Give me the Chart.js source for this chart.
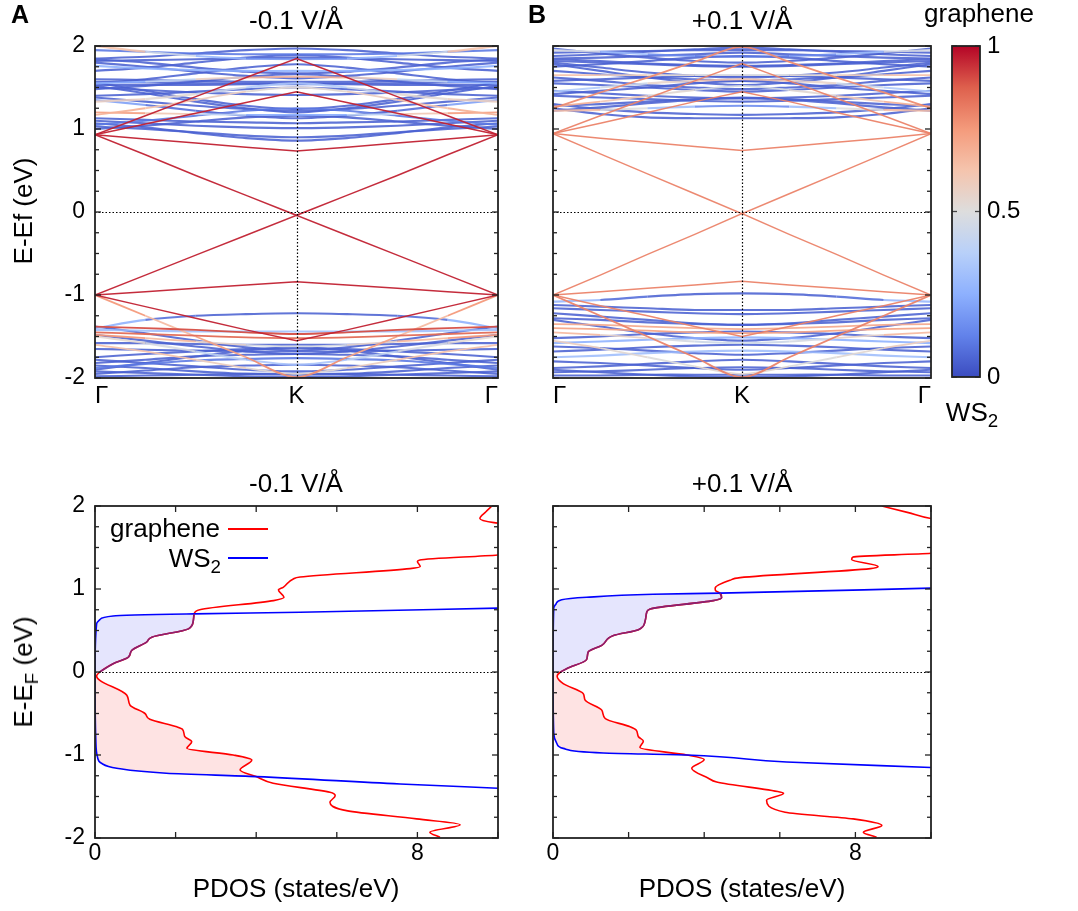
<!DOCTYPE html>
<html>
<head>
<meta charset="utf-8">
<title>graphene/WS2 bands and PDOS</title>
<script src="https://cdn.jsdelivr.net/npm/chart.js@4.4.1/dist/chart.umd.min.js"></script>
<style>
  body { margin: 0; background: #fff; }
  #fig { position: relative; width: 1078px; height: 911px; overflow: hidden;
         font-family: "Liberation Sans", Arial, sans-serif; color: #000; font-size: 26px; }
  #fig canvas { position: absolute; }
  .t { position: absolute; white-space: nowrap; line-height: 1; transform: translate(-50%, -50%); }
  .r { position: absolute; white-space: nowrap; line-height: 1; transform: translate(-100%, -50%); }
  .rot { transform: translate(-50%, -50%) rotate(-90deg); }
  .b { font-weight: bold; font-size: 25px; }
  .sb { font-size: 0.72em; position: relative; top: 0.32em; }
  .leg { position: absolute; height: 0; border-top: 2px solid; }
</style>
</head>
<body>
<div id="fig">
  <canvas id="bandA" width="520" height="410" style="left:0;top:20px"></canvas>
  <canvas id="bandB" width="420" height="410" style="left:540px;top:20px"></canvas>
  <canvas id="cbar" width="110" height="380" style="left:940px;top:20px"></canvas>
  <canvas id="pdosA" width="520" height="431" style="left:0;top:480px"></canvas>
  <canvas id="pdosB" width="420" height="431" style="left:540px;top:480px"></canvas>

  <div class="t b" style="left:20px;top:14px">A</div>
  <div class="t b" style="left:537px;top:14px">B</div>
  <div class="t" style="left:296px;top:20px">-0.1 V/Å</div>
  <div class="t" style="left:742px;top:20px">+0.1 V/Å</div>
  <div class="t" style="left:979px;top:13px">graphene</div>
  <div class="t" style="left:972px;top:412px">WS<span class="sb">2</span></div>
  <div class="t rot" style="left:23px;top:211px">E-Ef (eV)</div>

  <div class="t" style="left:296px;top:483px">-0.1 V/Å</div>
  <div class="t" style="left:742px;top:483px">+0.1 V/Å</div>
  <div class="t rot" style="left:23px;top:672px">E-E<span class="sb">F</span> (eV)</div>
  <div class="t" style="left:296px;top:888px">PDOS (states/eV)</div>
  <div class="t" style="left:742px;top:888px">PDOS (states/eV)</div>
  <div class="r" style="left:220px;top:528px">graphene</div>
  <div class="r" style="left:221px;top:558px">WS<span class="sb">2</span></div>
  <div class="leg" style="left:228px;top:528px;width:40px;border-color:#f00"></div>
  <div class="leg" style="left:228px;top:557px;width:40px;border-color:#00f"></div>
</div>

<script>
// k path Gamma -> K, the K -> Gamma half is the same bands mirrored
const kPath = [0, 0.25, 0.5, 0.75, 1];
const kLabels = ['Γ', 'K', 'Γ'];

// -0.1 V/A : bands (eV) read at kPath, and graphene weight of each band
const bandsA = [
  [1.07, 1.02, 0.95, 0.89, 0.86],
  [1.03, 1.00, 0.96, 0.92, 0.90],
  [1.10, 1.07, 1.04, 1.02, 1.01],
  [1.13, 1.11, 1.09, 1.08, 1.07],
  [1.00, 1.04, 1.09, 1.14, 1.16],
  [1.05, 1.10, 1.16, 1.22, 1.25],
  [1.35, 1.29, 1.22, 1.16, 1.13],
  [1.52, 1.43, 1.33, 1.25, 1.20],
  [1.56, 1.46, 1.36, 1.28, 1.24],
  [1.50, 1.47, 1.44, 1.42, 1.41],
  [1.53, 1.53, 1.53, 1.54, 1.54],
  [1.57, 1.56, 1.55, 1.55, 1.55],
  [1.60, 1.59, 1.58, 1.57, 1.57],
  [1.48, 1.52, 1.57, 1.63, 1.66],
  [1.55, 1.60, 1.67, 1.74, 1.78],
  [1.80, 1.75, 1.69, 1.64, 1.61],
  [1.84, 1.80, 1.74, 1.69, 1.67],
  [1.82, 1.83, 1.84, 1.85, 1.86],
  [1.85, 1.87, 1.91, 1.95, 1.97],
  [1.95, 1.93, 1.91, 1.90, 1.90],
  [1.76, 1.73, 1.71, 1.70, 1.70],
  [1.70, 1.74, 1.80, 1.86, 1.89],
  [1.40, 1.42, 1.45, 1.48, 1.50],
  [1.38, 1.33, 1.28, 1.24, 1.22],
  [2.00, 1.93, 1.88, 1.85, 1.84],
  [1.20, 1.19, 1.18, 1.17, 1.17],
  [1.17, 1.25, 1.35, 1.45, 1.50],
  [1.33, 1.36, 1.42, 1.50, 1.55],
  [1.55, 1.57, 1.60, 1.62, 1.63],
  [-1.40, -1.30, -1.25, -1.23, -1.22],
  [-1.38, -1.40, -1.42, -1.45, -1.47],
  [-1.45, -1.47, -1.49, -1.51, -1.52],
  [-1.48, -1.52, -1.56, -1.60, -1.62],
  [-1.42, -1.43, -1.44, -1.44, -1.44],
  [-1.58, -1.58, -1.59, -1.60, -1.60],
  [-1.38, -1.46, -1.55, -1.63, -1.67],
  [-1.48, -1.55, -1.62, -1.68, -1.71],
  [-1.75, -1.71, -1.68, -1.65, -1.64],
  [-1.82, -1.78, -1.74, -1.72, -1.71],
  [-1.88, -1.83, -1.79, -1.77, -1.76],
  [-1.95, -1.91, -1.87, -1.85, -1.84],
  [-1.78, -1.82, -1.86, -1.90, -1.92],
  [-1.85, -1.88, -1.92, -1.95, -1.96],
  [-1.98, -1.97, -1.96, -1.95, -1.95],
  [-1.92, -1.94, -1.96, -1.98, -1.99],
  [-1.60, -1.68, -1.78, -1.88, -1.95],
  [-1.50, -1.58, -1.68, -1.78, -1.84],
  [-1.90, -1.82, -1.74, -1.67, -1.63],
  [-1.65, -1.66, -1.67, -1.68, -1.68],
  [-1.00, -1.25, -1.50, -1.75, -1.99]
];
const wA = [
  0.05, 0.05, 0.05, 0.05, 0.05, 0.1, [0.3, 0.1, 0.05, 0.05, 0.05],
  0.05, 0.05, 0.05, 0.05, 0.05, 0.05, 0.05, 0.05, 0.05, 0.05, 0.05, 0.05,
  0.1, 0.25, 0.05, 0.05, 0.05,
  [0.72, 0.55, 0.35, 0.2, 0.15], [0.75, 0.7, 0.5, 0.3, 0.2], [0.7, 0.65, 0.6, 0.55, 0.5],
  [0.6, 0.55, 0.5, 0.4, 0.3], [0.2, 0.3, 0.5, 0.65, 0.7],
  [0.4, 0.1, 0.05, 0.05, 0.05], 0.9, 0.85, [0.8, 0.7, 0.6, 0.5, 0.45], 0.3,
  0.05, 0.05, 0.05, 0.05, 0.05, 0.1, 0.05, 0.05, 0.05, 0.05, 0.05,
  [0.6, 0.65, 0.6, 0.55, 0.5], [0.55, 0.5, 0.45, 0.35, 0.3], 0.05, 0.05,
  [0.9, 0.6, 0.7, 0.75, 0.8]
];
// folded graphene cones
const diracA = [
  [0.93, 0.69, 0.44, 0.20, -0.04],
  [-1.00, -0.76, -0.52, -0.28, -0.04],
  [0.93, 0.88, 0.83, 0.78, 0.735],
  [0.93, 1.06, 1.19, 1.32, 1.45],
  [0.93, 1.16, 1.39, 1.62, 1.85],
  [-1.00, -0.96, -0.92, -0.88, -0.84],
  [-1.00, -1.14, -1.28, -1.42, -1.55]
];
const diracWA = 0.96;

// +0.1 V/A
const bandsB = [
  [1.25, 1.18, 1.14, 1.13, 1.13],
  [1.30, 1.24, 1.20, 1.18, 1.17],
  [1.22, 1.26, 1.31, 1.35, 1.37],
  [1.28, 1.30, 1.33, 1.36, 1.38],
  [1.40, 1.38, 1.36, 1.34, 1.33],
  [1.46, 1.43, 1.40, 1.38, 1.37],
  [1.55, 1.53, 1.50, 1.47, 1.45],
  [1.62, 1.58, 1.53, 1.50, 1.48],
  [1.78, 1.70, 1.62, 1.56, 1.53],
  [1.80, 1.74, 1.68, 1.64, 1.62],
  [1.82, 1.80, 1.78, 1.76, 1.75],
  [1.85, 1.86, 1.88, 1.90, 1.92],
  [1.88, 1.90, 1.93, 1.96, 1.98],
  [1.92, 1.93, 1.94, 1.95, 1.95],
  [1.75, 1.78, 1.82, 1.86, 1.88],
  [1.70, 1.66, 1.62, 1.60, 1.58],
  [1.97, 1.91, 1.86, 1.82, 1.80],
  [1.58, 1.60, 1.62, 1.64, 1.64],
  [1.42, 1.46, 1.50, 1.55, 1.58],
  [1.84, 1.82, 1.79, 1.77, 1.76],
  [1.65, 1.65, 1.65, 1.65, 1.65],
  [1.95, 1.93, 1.90, 1.88, 1.87],
  [1.22, 1.23, 1.25, 1.27, 1.28],
  [1.27, 1.33, 1.40, 1.47, 1.52],
  [1.45, 1.50, 1.55, 1.58, 1.60],
  [1.25, 1.44, 1.62, 1.81, 1.99],
  [-1.08, -1.06, -1.02, -0.99, -0.98],
  [-1.12, -1.14, -1.16, -1.18, -1.18],
  [-1.16, -1.18, -1.20, -1.22, -1.23],
  [-1.22, -1.26, -1.30, -1.34, -1.36],
  [-1.28, -1.30, -1.33, -1.35, -1.36],
  [-1.35, -1.36, -1.38, -1.40, -1.41],
  [-1.40, -1.41, -1.43, -1.45, -1.46],
  [-1.45, -1.48, -1.52, -1.56, -1.58],
  [-1.30, -1.38, -1.46, -1.52, -1.55],
  [-1.52, -1.50, -1.47, -1.45, -1.44],
  [-1.58, -1.56, -1.54, -1.52, -1.51],
  [-1.62, -1.64, -1.67, -1.70, -1.72],
  [-1.68, -1.66, -1.63, -1.61, -1.60],
  [-1.75, -1.73, -1.70, -1.68, -1.67],
  [-1.80, -1.82, -1.85, -1.88, -1.90],
  [-1.88, -1.86, -1.83, -1.80, -1.78],
  [-1.93, -1.92, -1.90, -1.88, -1.87],
  [-1.97, -1.97, -1.96, -1.96, -1.96],
  [-1.90, -1.93, -1.96, -1.98, -1.99],
  [-1.55, -1.64, -1.75, -1.86, -1.95],
  [-1.00, -1.25, -1.50, -1.75, -1.99]
];
const wB = [
  0.05, 0.05, 0.05, 0.05, 0.05, 0.05, 0.05, 0.05, 0.05, 0.05,
  0.05, 0.05, 0.05, 0.05, 0.05, 0.05, 0.05, 0.05, 0.05, 0.05,
  [0.65, 0.6, 0.55, 0.5, 0.5], [0.55, 0.4, 0.2, 0.1, 0.1], [0.7, 0.6, 0.4, 0.2, 0.1],
  [0.7, 0.65, 0.55, 0.5, 0.45], [0.3, 0.4, 0.5, 0.6, 0.65], 0.78,
  [0.45, 0.1, 0.05, 0.05, 0.05], 0.05, 0.05, 0.05, 0.05, 0.7, 0.72,
  [0.7, 0.6, 0.5, 0.45, 0.45], 0.05, 0.05, 0.25, 0.05, 0.05, 0.3,
  0.05, 0.05, 0.05, 0.05, 0.05, [0.6, 0.55, 0.5, 0.5, 0.55], 0.8
];
const diracB = [
  [0.945, 0.70, 0.46, 0.22, -0.02],
  [-1.00, -0.76, -0.51, -0.27, -0.02],
  [0.945, 0.89, 0.84, 0.79, 0.74],
  [0.945, 1.07, 1.20, 1.33, 1.45],
  [0.945, 1.16, 1.37, 1.58, 1.79],
  [-1.00, -0.96, -0.92, -0.88, -0.835],
  [-1.00, -1.13, -1.25, -1.38, -1.50]
];
const diracWB = 0.8;

// PDOS, -0.1 V/A (energy eV, states/eV)
const eGrA = [-1.99, -1.93, -1.84, -1.77, -1.67, -1.57, -1.49, -1.45, -1.34, -1.26, -1.18, -1.06, -1.00, -0.92,
  -0.84, -0.78, -0.69, -0.66, -0.57, -0.50, -0.40, -0.28, -0.10, -0.05, 0.00, 0.10, 0.18, 0.26, 0.36, 0.42,
  0.52, 0.62, 0.70, 0.75, 0.86, 0.90, 0.99, 1.02, 1.12, 1.145, 1.245, 1.27, 1.33, 1.35, 1.41, 1.45, 1.60,
  1.75, 1.80, 1.85, 1.93, 2.00];
const pGrA = [8.56, 8.31, 9.06, 7.98, 6.24, 5.83, 5.96, 5.83, 4.42, 4.00, 3.60, 3.89, 3.43, 2.28,
  2.40, 2.23, 2.17, 2.03, 1.36, 1.24, 0.87, 0.79, 0.12, 0.04, 0.12, 0.45, 0.83, 0.91, 1.28, 1.41,
  2.32, 2.44, 2.46, 2.60, 4.43, 4.69, 4.55, 4.67, 4.92, 5.09, 7.82, 8.07, 8.00, 8.06, 10.0, 10.8, 12.0,
  11.0, 9.90, 9.55, 9.70, 9.85];
const eWsA = [-1.40, -1.35, -1.26, -1.22, -1.16, -1.10, -1.02, -0.82, 0.00, 0.58, 0.63, 0.675, 0.70, 0.72, 0.77];
const pWsA = [10.0, 7.57, 4.00, 1.77, 0.54, 0.16, 0.06, 0.02, 0.00, 0.04, 0.12, 0.45, 2.46, 5.09, 10.0];
const fillUpA = [0, 0.70];
const fillDownA = [-1.26, 0];

// PDOS, +0.1 V/A
const eGrB = [-1.99, -1.93, -1.85, -1.77, -1.69, -1.545, -1.46, -1.445, -1.325, -1.28, -1.16, -1.055, -1.00,
  -0.91, -0.83, -0.78, -0.70, -0.66, -0.56, -0.46, -0.34, -0.26, -0.14, -0.05, 0.00, 0.04, 0.15, 0.24, 0.32,
  0.44, 0.51, 0.62, 0.72, 0.76, 0.86, 0.895, 0.95, 0.98, 1.01, 1.105, 1.137, 1.245, 1.27, 1.355, 1.385,
  1.43, 1.50, 1.65, 1.80, 1.85, 1.92, 2.00];
const pGrB = [8.56, 8.21, 8.70, 7.94, 6.14, 5.65, 6.10, 6.00, 4.33, 4.11, 3.67, 4.00, 3.54,
  2.30, 2.39, 2.26, 2.20, 2.04, 1.38, 1.29, 0.85, 0.80, 0.27, 0.11, 0.20, 0.36, 0.89, 0.93, 1.29,
  1.60, 2.26, 2.44, 2.48, 2.57, 4.24, 4.46, 4.42, 4.30, 4.29, 4.68, 4.95, 8.40, 8.60, 7.90, 7.94,
  10.0, 11.0, 12.0, 11.0, 10.0, 9.40, 8.70];
const eWsB = [-1.15, -1.085, -1.00, -0.975, -0.92, -0.86, -0.74, 0.00, 0.77, 0.82, 0.87, 0.90, 0.936, 0.95, 1.01];
const pWsB = [10.0, 6.18, 3.54, 1.33, 0.27, 0.10, 0.02, 0.00, 0.02, 0.08, 0.23, 0.89, 2.65, 4.42, 10.0];
const fillUpB = [0, 0.95];
const fillDownB = [-1.00, 0];

const pdosLabels = [0, 8];
const cbarRange = [0, 1];

// coolwarm-ish palette (weight -> rgb)
const cmapStops = [
  [0.0, [59, 76, 192]], [0.125, [98, 130, 234]], [0.25, [141, 176, 254]], [0.375, [184, 208, 249]],
  [0.5, [221, 221, 221]], [0.625, [245, 196, 173]], [0.75, [244, 154, 123]], [0.875, [222, 96, 77]],
  [1.0, [180, 4, 38]]
];

function cmap(w, alpha) {
  w = Math.min(1, Math.max(0, w));
  let i = 0;
  while (i < cmapStops.length - 2 && w > cmapStops[i + 1][0]) i++;
  const [w0, c0] = cmapStops[i], [w1, c1] = cmapStops[i + 1];
  const t = (w - w0) / (w1 - w0);
  const c = c0.map((v, j) => Math.round(v + (c1[j] - v) * t));
  return 'rgba(' + c[0] + ',' + c[1] + ',' + c[2] + ',' + alpha + ')';
}

Chart.defaults.font.family = "'Liberation Sans', Arial, sans-serif";
Chart.defaults.color = '#000';

// box + inward ticks on all sides + dotted guides (gnuplot look)
const frame = {
  id: 'frame',
  afterDatasetsDraw(chart, args, o) {
    const {ctx, chartArea: a, scales} = chart;
    const x = scales.x, y = scales.y;
    const seg = (x0, y0, x1, y1) => { ctx.beginPath(); ctx.moveTo(x0, y0); ctx.lineTo(x1, y1); ctx.stroke(); };
    ctx.save();
    ctx.strokeStyle = '#000';
    ctx.lineWidth = 1.2;
    ctx.setLineDash([1.5, 2]);
    (o.hLines || []).forEach(v => { const p = Math.round(y.getPixelForValue(v)) + 0.5; seg(a.left, p, a.right, p); });
    (o.vLines || []).forEach(v => { const p = Math.round(x.getPixelForValue(v)) + 0.5; seg(p, a.top, p, a.bottom); });
    ctx.setLineDash([]);

    ctx.strokeStyle = o.cbar ? '#444' : '#222';
    ctx.lineWidth = 1.3;
    y.ticks.forEach(t => {
      const p = y.getPixelForValue(t.value);
      const len = o.cbar ? 5 : (Number.isInteger(t.value) ? 6 : 4);
      seg(a.left, p, a.left + len, p);
      seg(a.right, p, a.right - len, p);
    });
    if (o.xTicks) {
      x.ticks.forEach(t => {
        const p = x.getPixelForValue(t.value);
        seg(p, a.bottom, p, a.bottom - 6);
        seg(p, a.top, p, a.top + 6);
      });
    }
    ctx.strokeStyle = '#222';
    ctx.lineWidth = 1.8;
    ctx.strokeRect(a.left, a.top, a.width, a.height);
    ctx.restore();
  }
};
Chart.register(frame);

const noPad = s => { s.paddingTop = 0; s.paddingBottom = 0; s.paddingLeft = 0; s.paddingRight = 0; };
const mirror = v => v.concat(v.slice(0, 4).reverse());
const kFull = kPath.concat(kPath.slice(0, 4).reverse().map(k => 2 - k));

function bandSet(e, wt, straight) {
  const w = mirror(Array.isArray(wt) ? wt : kPath.map(() => wt));
  const ys = mirror(e);
  const avg = w.reduce((s, v) => s + v, 0) / w.length;
  const alpha = avg > 0.5 ? 0.95 : 0.88;
  return {
    data: kFull.map((k, j) => ({x: k, y: ys[j]})),
    borderColor: cmap(avg, alpha),
    borderWidth: straight ? 1.5 : (avg > 0.5 ? 1.8 : 2.1),
    tension: straight ? 0 : 0.3,
    pointRadius: 0,
    fill: false,
    order: straight ? -1 : 1 - avg,
    segment: { borderColor: c => cmap((w[c.p0DataIndex] + w[c.p1DataIndex]) / 2, alpha) }
  };
}

function bandChart(id, bands, wts, dirac, diracW, showY) {
  const sets = bands.map((e, i) => bandSet(e, wts[i] ?? 0.05, false))
    .concat(dirac.map(e => bandSet(e, diracW, true)));
  return new Chart(document.getElementById(id), {
    type: 'line',
    data: { datasets: sets },
    options: {
      responsive: false, animation: false, events: [], devicePixelRatio: 1,
      layout: { padding: { left: 0, top: 26, right: showY ? 22 : 29, bottom: 0 } },
      plugins: { legend: {display: false}, tooltip: {enabled: false}, frame: { hLines: [0], vLines: [1] } },
      scales: {
        x: {
          type: 'linear', min: 0, max: 2,
          grid: {display: false, drawTicks: false}, border: {display: false},
          ticks: { stepSize: 1, autoSkip: false, maxRotation: 0, align: 'inner', padding: 4, font: {size: 24},
                   callback: v => kLabels[v] ?? '' },
          afterFit: s => { s.height = 52; noPad(s); }
        },
        y: {
          type: 'linear', min: -2, max: 2,
          grid: {display: false, drawTicks: false}, border: {display: false},
          ticks: { stepSize: 0.25, autoSkip: false, display: showY, padding: 10, font: {size: 23},
                   callback: v => Number.isInteger(v) ? String(v) : '' },
          afterFit: s => { s.width = showY ? 95 : 13; noPad(s); }
        }
      }
    }
  });
}

function pdosChart(id, eG, pG, eW, pW, up, down, showY) {
  const curve = (e, p) => e.map((v, i) => ({x: p[i], y: v}));
  const pick = (e, p, r) => curve(e, p).filter(d => d.y >= r[0] - 1e-9 && d.y <= r[1] + 1e-9);
  const base = { pointRadius: 0, cubicInterpolationMode: 'monotone', fill: false };
  const hidden = { borderWidth: 0, borderColor: 'rgba(0,0,0,0)' };
  return new Chart(document.getElementById(id), {
    type: 'line',
    data: { datasets: [
      // 0: graphene part above E_F, filled to WS2 (dataset 1)
      { ...base, data: pick(eG, pG, up), fill: 1, backgroundColor: 'rgba(40,40,235,0.12)',
        borderColor: '#8a1f70', borderWidth: 1.6, order: 0 },
      { ...base, ...hidden, data: pick(eW, pW, up), order: 6 },
      // 2: graphene part below E_F, filled to WS2 (dataset 3)
      { ...base, ...hidden, data: pick(eG, pG, down), fill: 3, backgroundColor: 'rgba(245,40,40,0.13)', order: 5 },
      { ...base, ...hidden, data: pick(eW, pW, down), order: 6 },
      { ...base, data: curve(eG, pG), borderColor: '#ff0000', borderWidth: 1.6, order: 2 },
      { ...base, data: curve(eW, pW), borderColor: '#0000ff', borderWidth: 1.6, order: 1 }
    ]},
    options: {
      indexAxis: 'y',
      responsive: false, animation: false, events: [], devicePixelRatio: 1,
      layout: { padding: { left: 0, top: 26, right: showY ? 22 : 29, bottom: 0 } },
      plugins: { legend: {display: false}, tooltip: {enabled: false}, frame: { hLines: [0], xTicks: true } },
      scales: {
        x: {
          type: 'linear', min: 0, max: 10,
          grid: {display: false, drawTicks: false}, border: {display: false},
          ticks: { stepSize: 2, autoSkip: false, maxRotation: 0, padding: 2, font: {size: 23},
                   callback: v => pdosLabels.includes(v) ? String(v) : '' },
          afterFit: s => { s.height = 73; noPad(s); }
        },
        y: {
          type: 'linear', min: -2, max: 2,
          grid: {display: false, drawTicks: false}, border: {display: false},
          ticks: { stepSize: 0.25, autoSkip: false, display: showY, padding: 10, font: {size: 23},
                   callback: v => Number.isInteger(v) ? String(v) : '' },
          afterFit: s => { s.width = showY ? 95 : 13; noPad(s); }
        }
      }
    }
  });
}

bandChart('bandA', bandsA, wA, diracA, diracWA, true);
bandChart('bandB', bandsB, wB, diracB, diracWB, false);
pdosChart('pdosA', eGrA, pGrA, eWsA, pWsA, fillUpA, fillDownA, true);
pdosChart('pdosB', eGrB, pGrB, eWsB, pWsB, fillUpB, fillDownB, false);

// colour bar
new Chart(document.getElementById('cbar'), {
  type: 'bar',
  data: { labels: ['w'], datasets: [{
    data: [cbarRange],
    barPercentage: 1, categoryPercentage: 1, borderWidth: 0,
    backgroundColor: c => {
      const a = c.chart.chartArea;
      if (!a) return '#ddd';
      const g = c.chart.ctx.createLinearGradient(0, a.bottom, 0, a.top);
      cmapStops.forEach(([w]) => g.addColorStop(w, cmap(w, 1)));
      return g;
    }
  }]},
  options: {
    responsive: false, animation: false, events: [], devicePixelRatio: 1,
    layout: { padding: { left: 12, top: 26, right: 0, bottom: 23 } },
    plugins: { legend: {display: false}, tooltip: {enabled: false}, frame: { cbar: true } },
    scales: {
      x: { display: false },
      y: {
        position: 'right', min: 0, max: 1,
        grid: {display: false, drawTicks: false}, border: {display: false},
        ticks: { stepSize: 0.5, padding: 7, font: {size: 24}, callback: v => String(v) },
        afterFit: s => { s.width = 70; noPad(s); }
      }
    }
  }
});
</script>
</body>
</html>
